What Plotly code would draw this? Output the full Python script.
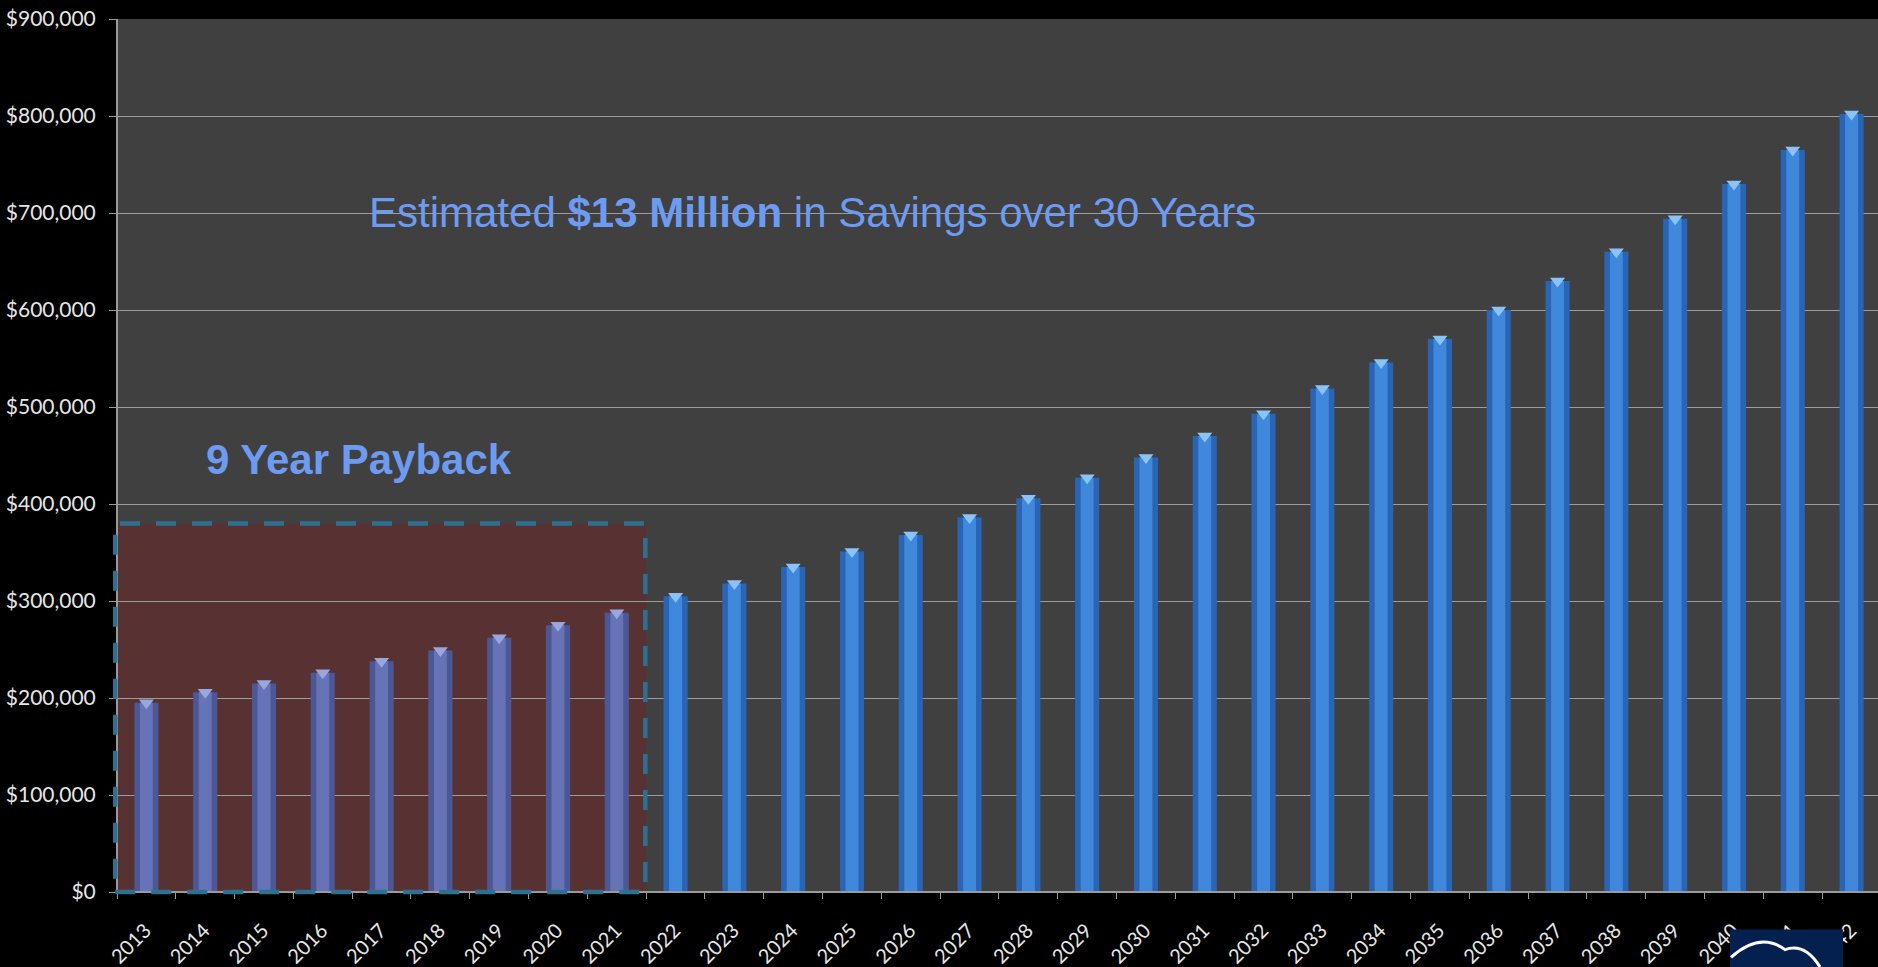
import plotly.graph_objects as go

years = [str(y) for y in range(2013, 2043)]
savings = [195000, 206000, 215000, 226000, 238000, 249000, 262000, 275000, 288000,
           305000, 318000, 335000, 351000, 368000, 386000, 406000, 427000, 448000,
           470000, 493000, 519000, 546000, 570000, 600000, 630000, 660000, 694000,
           730000, 765000, 802000]
payback_years = 9
payback_box_top = 380000
y_max = 900000
y_ticks = list(range(0, y_max + 1, 100000))
y_tick_text = ["${:,}".format(v) for v in y_ticks]

n = len(years)
base_colors = ["#4c5796" if i < payback_years else "#2a64b4" for i in range(n)]
hi_colors = ["#6673b6" if i < payback_years else "#3f88dc" for i in range(n)]
cap_colors = ["#9aa6dc" if i < payback_years else "#8cc3f6" for i in range(n)]

fig = go.Figure()
fig.add_trace(go.Bar(
    x=years, y=savings, width=0.41,
    marker=dict(color=base_colors, line=dict(width=0)),
    hoverinfo="x+y",
))
fig.add_trace(go.Bar(
    x=years, y=savings, width=0.22,
    marker=dict(color=hi_colors, line=dict(width=0)),
    hoverinfo="skip",
))
fig.add_trace(go.Scatter(
    x=years, y=savings, mode="markers",
    marker=dict(symbol="triangle-down", size=13, color=cap_colors, line=dict(width=0)),
    hoverinfo="skip",
))

axis_gray = "#9a9a9a"

# payback region fill (below gridlines)
fig.add_shape(type="rect", xref="x", yref="y",
              x0=-0.5, x1=payback_years - 0.5, y0=0, y1=payback_box_top,
              fillcolor="#583232", line=dict(width=0), layer="below")
# axis lines drawn as shapes so the dashed outline can sit on top of them
fig.add_shape(type="line", xref="paper", yref="paper", x0=0, x1=1, y0=0, y1=0,
              line=dict(color=axis_gray, width=2), layer="above")
fig.add_shape(type="line", xref="paper", yref="paper", x0=0, x1=0, y0=0, y1=1,
              line=dict(color=axis_gray, width=2), layer="above")
fig.add_shape(type="rect", xref="paper", yref="paper",
              x0=-0.001, x1=payback_years / n, y0=0, y1=payback_box_top / y_max,
              fillcolor="rgba(0,0,0,0)",
              line=dict(color="#2e7090", width=4.5, dash="20px,16px"), layer="above")

# logo box (bottom right)
fig.add_shape(type="rect", xref="paper", yref="paper",
              x0=(1730 - 117) / 1761, x1=(1843 - 117) / 1761, y0=-0.086, y1=-0.043,
              fillcolor="#03204f", line=dict(width=0), layer="above")
fig.add_shape(type="path", xref="paper", yref="paper",
              path="M %f,%f Q %f,%f %f,%f Q %f,%f %f,%f" % (
                  (1731 - 117) / 1761, -0.075,
                  (1760 - 117) / 1761, -0.045,
                  (1785 - 117) / 1761, -0.066,
                  (1805 - 117) / 1761, -0.058,
                  (1820 - 117) / 1761, -0.086),
              line=dict(color="white", width=3), layer="above")

fig.add_annotation(x=(812 - 117) / 1761, y=(892 - 212) / 873, xref="paper", yref="paper",
                   xanchor="center", yanchor="middle",
                   text="Estimated <b>$13 Million</b> in Savings over 30 Years",
                   showarrow=False, font=dict(family="Liberation Sans, Arial", size=42, color="#6e9bf2"))
fig.add_annotation(x=(359 - 117) / 1761, y=(892 - 459) / 873, xref="paper", yref="paper",
                   xanchor="center", yanchor="middle",
                   text="<b>9 Year Payback</b>",
                   showarrow=False, font=dict(family="Liberation Sans, Arial", size=42, color="#6e9bf2"))

fig.update_layout(
    width=1878, height=967,
    margin=dict(l=117, r=0, t=19, b=75, autoexpand=False),
    paper_bgcolor="#000000", plot_bgcolor="#404040",
    showlegend=False, barmode="overlay",
    font=dict(family="Lato, Liberation Sans", color="#e6e6e6", size=20),
)
fig.update_xaxes(
    type="category", range=[-0.5, n - 0.55], tickangle=-45, automargin=False,
    tickson="boundaries", ticks="outside", ticklen=6, tickcolor=axis_gray,
    showline=False, showgrid=False,
    ticklabelshift=-1, ticklabelstandoff=22,
    tickfont=dict(size=20, color="#e6e6e6"),
)
fig.update_yaxes(
    range=[0, y_max], tickvals=y_ticks, ticktext=y_tick_text, automargin=False,
    ticks="outside", ticklen=7, tickcolor=axis_gray,
    showline=False, ticklabelstandoff=9,
    gridcolor="#9c9c9c", gridwidth=1, zeroline=False,
    tickfont=dict(size=21, color="#e6e6e6"),
)

fig.write_html("out.html", config={"displayModeBar": False},
               post_script="document.body.style.margin='0';document.body.style.overflow='hidden';")
